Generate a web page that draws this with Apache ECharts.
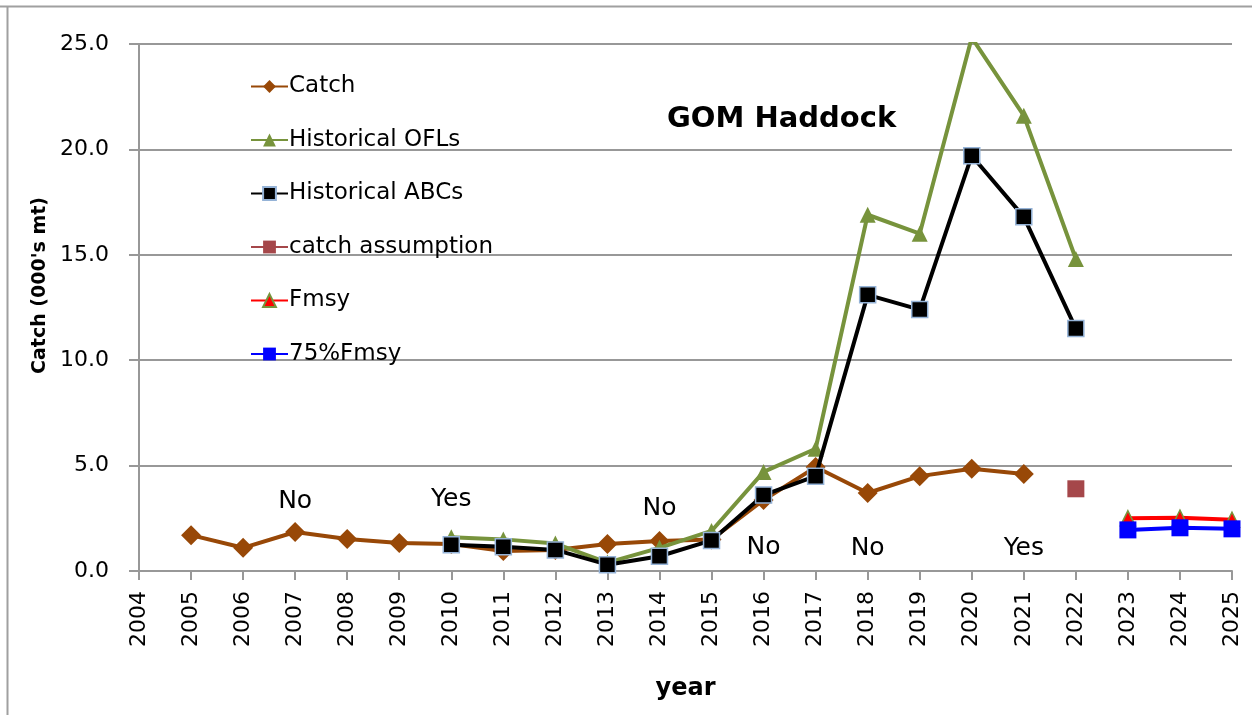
<!DOCTYPE html>
<html>
<head>
<meta charset="utf-8">
<script src="https://cdn.jsdelivr.net/npm/echarts@6/dist/echarts.min.js"></script>
<style>
  html, body { margin: 0; padding: 0; background: #fff; }
  #main { width: 1252px; height: 715px; }
</style>
</head>
<body>
<div id="main"></div>
<script>
// years on the x axis (2004 is the empty first slot)
const years = ['2004', '2005', '2006', '2007', '2008', '2009', '2010', '2011', '2012', '2013', '2014',
  '2015', '2016', '2017', '2018', '2019', '2020', '2021', '2022', '2023', '2024', '2025'];

const catchVals = [null, 1.7, 1.1, 1.85, 1.52, 1.33, 1.28, 0.95, 1.0, 1.28, 1.42,
  1.5, 3.37, 4.93, 3.7, 4.5, 4.85, 4.6, null, null, null, null];
const oflVals = [null, null, null, null, null, null, 1.6, 1.5, 1.3, 0.4, 1.1,
  1.9, 4.7, 5.8, 16.9, 16.0, 25.3, 21.6, 14.8, null, null, null];
const abcVals = [null, null, null, null, null, null, 1.25, 1.15, 1.0, 0.3, 0.7,
  1.45, 3.6, 4.5, 13.1, 12.4, 19.7, 16.8, 11.5, null, null, null];
const catchAssumption = [null, null, null, null, null, null, null, null, null, null, null,
  null, null, null, null, null, null, null, 3.9, null, null, null];
const fmsyVals = [null, null, null, null, null, null, null, null, null, null, null,
  null, null, null, null, null, null, null, null, 2.5, 2.53, 2.43];
const fmsy75Vals = [null, null, null, null, null, null, null, null, null, null, null,
  null, null, null, null, null, null, null, null, 1.95, 2.05, 2.0];

// Yes / No notes placed on the plot
const noteYears = ['2007', '2010', '2014', '2016', '2018', '2021'];
const noteValues = [3.3, 3.4, 2.95, 1.1, 1.05, 1.05];
const noteTexts = ['No', 'Yes', 'No', 'No', 'No', 'Yes'];

const yTicks = [0, 5, 10, 15, 20, 25];

const font = '"DejaVu Sans", sans-serif';

const chart = echarts.init(document.getElementById('main'));

chart.setOption({
  animation: false,
  textStyle: { fontFamily: font },
  title: {
    text: 'GOM Haddock',
    left: 662,
    top: 100,
    textStyle: { fontSize: 29, fontWeight: 'bold', color: '#000', fontFamily: font }
  },
  legend: {
    orient: 'vertical',
    left: 250,
    top: 75,
    padding: 0,
    itemGap: 30.5,
    itemWidth: 37,
    itemHeight: 16,
    textStyle: { fontSize: 23, lineHeight: 23, color: '#000', padding: [0, 0, 0, -4] },
    data: ['Catch', 'Historical OFLs', 'Historical ABCs', 'catch assumption', 'Fmsy', '75%Fmsy']
  },
  grid: { left: 139, right: 20, top: 44, bottom: 144, containLabel: false },
  xAxis: {
    type: 'category',
    data: years,
    boundaryGap: false,
    name: 'year',
    nameLocation: 'middle',
    nameGap: 106,
    nameTextStyle: { fontSize: 24, fontWeight: 'bold', color: '#000' },
    axisLine: { lineStyle: { color: '#989898', width: 2 } },
    axisTick: { show: true, length: 9, lineStyle: { color: '#989898', width: 2 } },
    axisLabel: { rotate: 90, fontSize: 22, color: '#000', margin: 20 },
    splitLine: { show: false }
  },
  yAxis: {
    type: 'value',
    min: 0,
    max: 25,
    interval: 5,
    name: "Catch (000's mt)",
    nameLocation: 'middle',
    nameGap: 87,
    nameTextStyle: { fontSize: 19, fontWeight: 'bold', color: '#000', padding: [0, 0, 0, 44] },
    axisLine: { show: true, lineStyle: { color: '#989898', width: 2 } },
    axisTick: { show: true, length: 10, lineStyle: { color: '#989898', width: 2 } },
    axisLabel: {
      fontSize: 22, color: '#000', margin: 30,
      formatter: v => yTicks.includes(v) ? v.toFixed(1) : ''
    },
    splitLine: { lineStyle: { color: '#989898', width: 2 } }
  },
  graphic: [
    {
      type: 'line',
      shape: { x1: 0, y1: 6.5, x2: 1252, y2: 6.5 },
      style: { stroke: '#a0a0a0', lineWidth: 2 },
      silent: true
    },
    {
      type: 'line',
      shape: { x1: 7.5, y1: 6, x2: 7.5, y2: 715 },
      style: { stroke: '#a0a0a0', lineWidth: 2 },
      silent: true
    }
  ],
  series: [
    {
      name: 'Catch', type: 'line', data: catchVals,
      symbol: 'diamond', symbolSize: 20,
      lineStyle: { color: '#984807', width: 4 },
      itemStyle: { color: '#984807' },
      z: 2
    },
    {
      name: 'Historical OFLs', type: 'line', data: oflVals,
      symbol: 'triangle', symbolSize: 16,
      lineStyle: { color: '#77933C', width: 4 },
      itemStyle: { color: '#77933C' },
      z: 3
    },
    {
      name: 'Historical ABCs', type: 'line', data: abcVals,
      symbol: 'rect', symbolSize: 16,
      lineStyle: { color: '#000', width: 4 },
      itemStyle: { color: '#000', borderColor: '#95B3D7', borderWidth: 1.5 },
      z: 4
    },
    {
      name: 'catch assumption', type: 'line', data: catchAssumption,
      symbol: 'rect', symbolSize: 17,
      lineStyle: { color: '#A5474A', width: 4 },
      itemStyle: { color: '#A5474A' },
      z: 4
    },
    {
      name: 'Fmsy', type: 'line', data: fmsyVals,
      symbol: 'triangle', symbolSize: 15,
      lineStyle: { color: '#FF0000', width: 4 },
      itemStyle: { color: '#FF0000', borderColor: '#77933C', borderWidth: 1.5 },
      z: 4
    },
    {
      name: '75%Fmsy', type: 'line', data: fmsy75Vals,
      symbol: 'rect', symbolSize: 17,
      lineStyle: { color: '#0000FF', width: 4 },
      itemStyle: { color: '#0000FF' },
      z: 5
    },
    {
      name: 'notes', type: 'scatter',
      data: noteYears.map((y, i) => [y, noteValues[i], noteTexts[i]]),
      symbolSize: 1,
      silent: true,
      itemStyle: { opacity: 0 },
      label: {
        show: true, position: 'inside',
        formatter: p => p.data[2],
        fontSize: 25, color: '#000', opacity: 1
      },
      z: 6
    }
  ]
});
</script>
</body>
</html>
